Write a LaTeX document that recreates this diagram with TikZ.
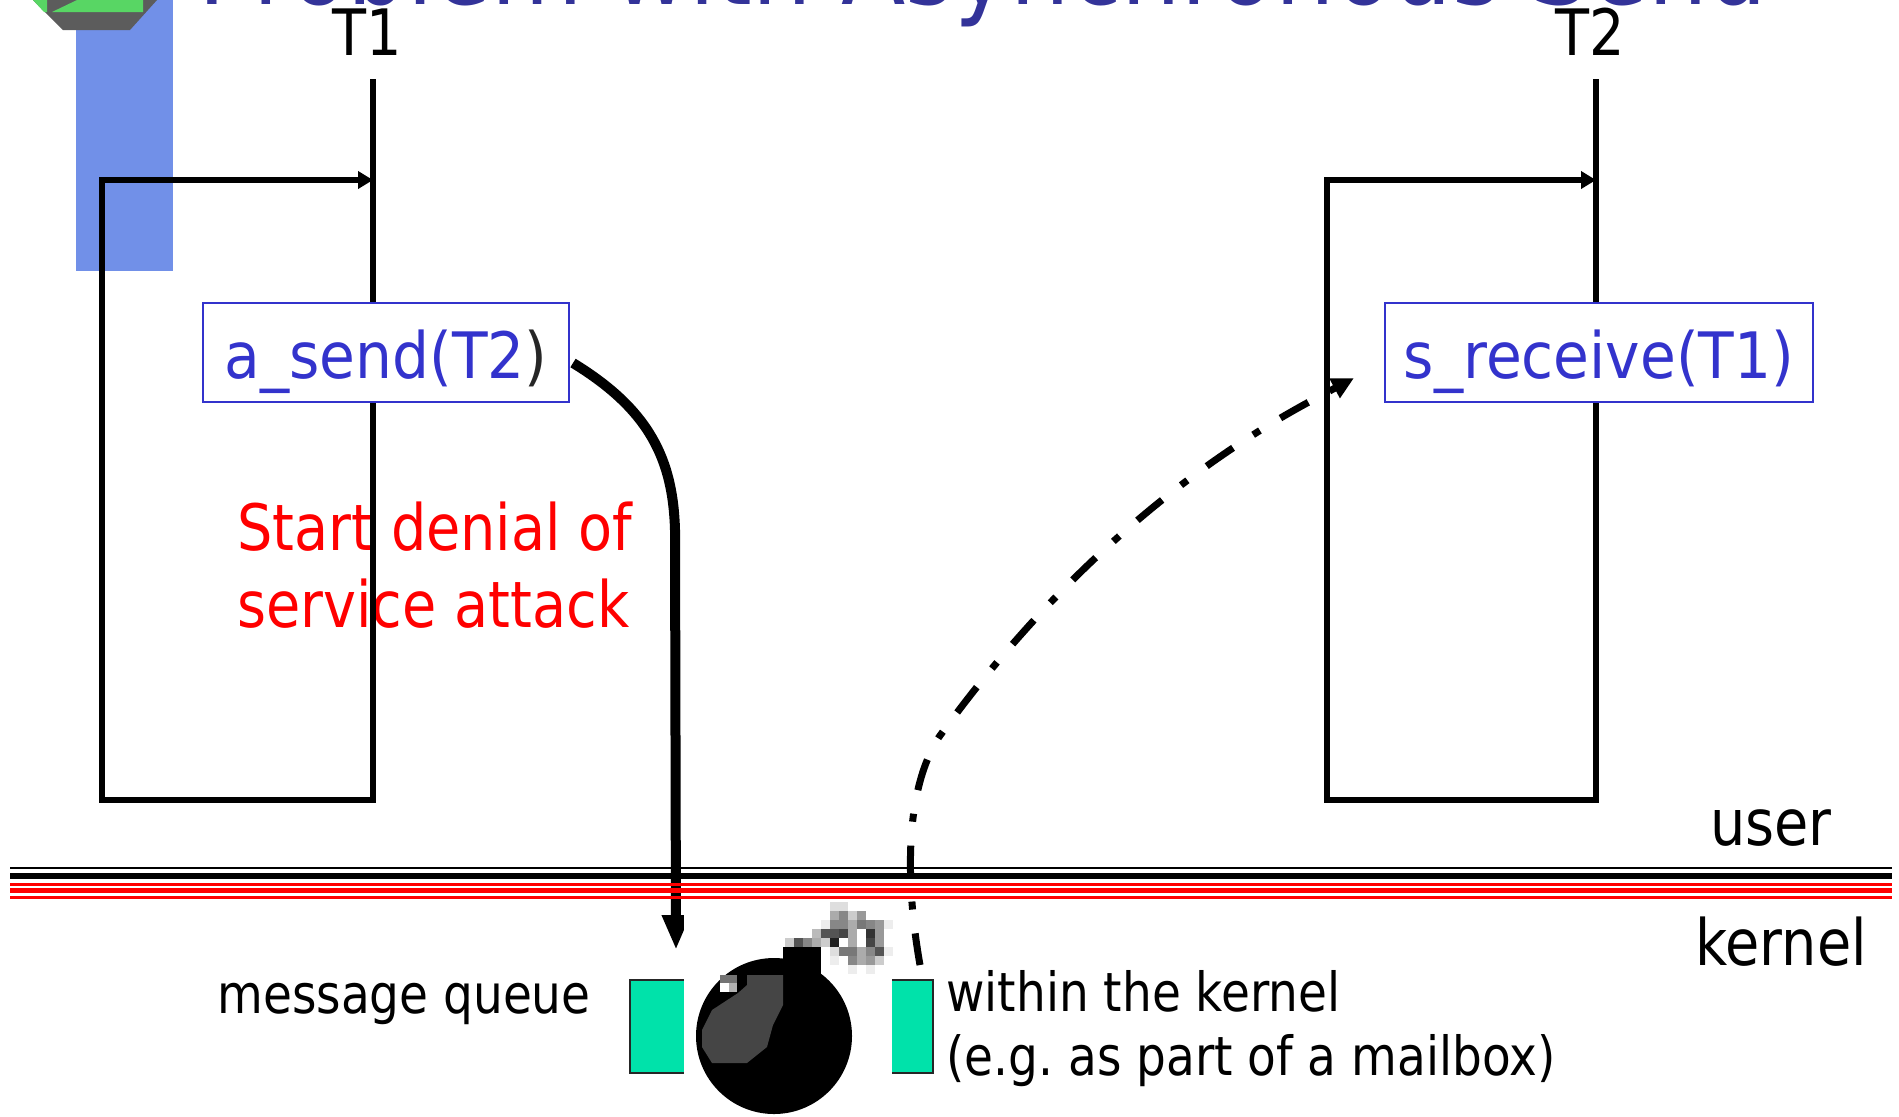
\documentclass[tikz,border=0pt]{standalone}
\usepackage{fontspec}
\setmainfont{DejaVu Sans}[FakeStretch=0.87]
\newfontfamily\callfamily{DejaVu Sans}[FakeStretch=0.91]
\usetikzlibrary{arrows.meta}

\definecolor{titleblue}{RGB}{51,51,153}
\definecolor{boxblue}{RGB}{51,51,204}
\definecolor{barblue}{RGB}{113,144,232}
\definecolor{logogreen}{RGB}{88,214,100}
\definecolor{logogray}{RGB}{92,92,92}
\definecolor{queuegreen}{RGB}{0,226,170}
\definecolor{alertred}{RGB}{255,0,0}

\newcommand\bigtext{\fontsize{32}{38.5}\selectfont}
\newcommand\calltext{\callfamily\fontsize{32}{38.5}\selectfont}
\newcommand\smalltext{\fontsize{27}{32}\selectfont}
\newcommand\titletext{\fontsize{54}{60}\selectfont}
% one pixel of the bomb's fuse on a 9-unit grid
\newcommand\fusepx[3]{\fill[black!#3] ({830+9*#1},{902+9*#2}) rectangle ++(9,9);}

\begin{document}
\begin{tikzpicture}[x=0.5pt, y=-0.5pt,
  thread/.style={line width=3.25pt, line join=miter},
  callbox/.style={draw=boxblue, line width=1pt, fill=white, inner sep=0pt,
    minimum height=49.5pt, text=boxblue, font=\calltext,
    text height=25.5pt, text depth=0pt},
  label/.style={inner sep=0pt},
  slot/.style={draw=black!85, line width=1pt, fill=queuegreen, inner sep=0pt,
    minimum height=46.5pt},
  blackrule/.style={draw=black},
  redrule/.style={draw=alertred}]

\useasboundingbox (0,0) rectangle (1899,1116);

% side bar and logo
\fill[barblue] (76,0) rectangle (173,271);
\fill[logogray] (33,0) -- (63,30) -- (130,30) -- (157,0) -- cycle;
\fill[logogreen] (77,0) -- (52,12) -- (143,12) -- (143,0) -- cycle;
\fill[logogreen] (33,0) -- (47,0) -- (47,12) -- (44,12) -- cycle;

% title
\node[label, anchor=base west, text=titleblue, font=\titletext] (title) at (198,4)
  {Problem with Asynchronous Send};

% texts
\node[label, anchor=base, font=\bigtext] (t1name) at (367,55) {T1};
\node[label, anchor=base, font=\bigtext] (t2name) at (1590,55) {T2};
\node[label, anchor=north west, align=left, text=alertred, font=\bigtext] (dos)
  at (237,501) {Start denial of\\service attack};
\node[label, anchor=base west, font=\bigtext] (user) at (1710,845) {user};
\node[label, anchor=base west, font=\bigtext] (kernel) at (1695,965) {kernel};
\node[label, anchor=base west, font=\smalltext] (mq) at (217,1013) {message queue};
\node[label, anchor=north west, align=left, font=\smalltext] (where) at (946,970)
  {within the kernel\\(e.g.\ as part of a mailbox)};

% threads and their loops
\coordinate (t1head) at (373,79);
\coordinate (t1foot) at (373,800);
\coordinate (t1back) at (102,180);
\coordinate (t2head) at (1596,79);
\coordinate (t2foot) at (1596,800);
\coordinate (t2back) at (1327,180);
\draw[thread, -{Triangle[length=7.5pt,width=8.5pt]}]
  (t1head) -- (t1foot) -| (t1back) -- (t1back -| t1head);
\draw[thread, -{Triangle[length=7.5pt,width=8.5pt]}]
  (t2head) -- (t2foot) -| (t2back) -- (t2back -| t2head);

% system calls
\node[callbox, minimum width=183pt] (send) at (386,352.5)
  {a\_send(T2\textcolor{black!85}{)}};
\node[callbox, minimum width=214pt] (recv) at (1599,352.5) {s\_receive(T1)};

% message into the queue, and the blocked receive
\coordinate (qin) at (676,950);
\coordinate (qout) at (920,965);
\draw[line width=5pt, -{Triangle[length=17.5pt,width=13pt]}]
  ([xshift=1.5pt,yshift=-5.25pt]send.east) .. controls (650,410) and (673,460)
  .. (675,530) -- (qin);
\draw[line width=3.5pt, dash pattern=on 16pt off 12pt on 4pt off 12pt,
  -{Triangle[length=11pt,width=10.5pt]}]
  (qout) .. controls (905,880) and (905,790) .. (939,737)
  .. controls (1110,500) and (1290,412) .. ([xshift=-15pt,yshift=-12.75pt]recv.west);

% user / kernel boundary
\draw[blackrule, line width=1pt] (10,868) -- (1892,868);
\draw[blackrule, line width=3pt] (10,875.5) -- (1892,875.5);
\draw[redrule, line width=1.25pt] (10,884.5) -- (1892,884.5);
\draw[redrule, line width=2.5pt] (10,890.5) -- (1892,890.5);
\draw[redrule, line width=1.25pt] (10,897.5) -- (1892,897.5);

% queue slots
\node[slot, minimum width=35pt] (slotL) at (665,1026.5) {};
\node[slot, minimum width=28.5pt] (slotR) at (904.5,1026.5) {};

% bomb
\fill[white] (684,900) rectangle (892,1116);
\fill[black] (774,1036) circle [radius=39pt];
\fill[black] (783,975) -- (783,947) -- (821,947) -- (821,975) -- cycle;
\fill[black!73] (747,975) -- (783,975) -- (783,1005) -- (773,1025) -- (767,1047)
  -- (747,1063) -- (712,1063) -- (702,1047) -- (702,1030) -- (712,1010)
  -- (738,993) -- (747,985) -- cycle;
\fill[black!55] (720,975) rectangle (737,983);
\fill[white] (720,983) rectangle (729,992);
\fill[black!30] (729,983) rectangle (737,992);
\fusepx{0}{0}{13}\fusepx{1}{0}{13}
\fusepx{0}{1}{33}\fusepx{1}{1}{47}\fusepx{2}{1}{20}\fusepx{3}{1}{40}
\fusepx{-1}{2}{7}\fusepx{0}{2}{47}\fusepx{1}{2}{47}\fusepx{2}{2}{33}
\fusepx{3}{2}{53}\fusepx{4}{2}{47}\fusepx{5}{2}{40}\fusepx{6}{2}{7}
\fusepx{-2}{3}{27}\fusepx{-1}{3}{67}\fusepx{0}{3}{67}\fusepx{1}{3}{73}
\fusepx{2}{3}{33}\fusepx{4}{3}{80}\fusepx{5}{3}{40}
\fusepx{-5}{4}{20}\fusepx{-4}{4}{67}\fusepx{-3}{4}{47}\fusepx{-2}{4}{33}
\fusepx{-1}{4}{20}\fusepx{0}{4}{87}\fusepx{2}{4}{33}\fusepx{4}{4}{73}\fusepx{5}{4}{40}
\fusepx{0}{5}{13}\fusepx{1}{5}{53}\fusepx{2}{5}{53}\fusepx{3}{5}{33}
\fusepx{4}{5}{47}\fusepx{5}{5}{67}\fusepx{6}{5}{7}
\fusepx{0}{6}{7}\fusepx{2}{6}{47}\fusepx{3}{6}{33}\fusepx{4}{6}{40}\fusepx{5}{6}{20}
\fusepx{2}{7}{7}\fusepx{4}{7}{7}

\end{tikzpicture}
\end{document}
